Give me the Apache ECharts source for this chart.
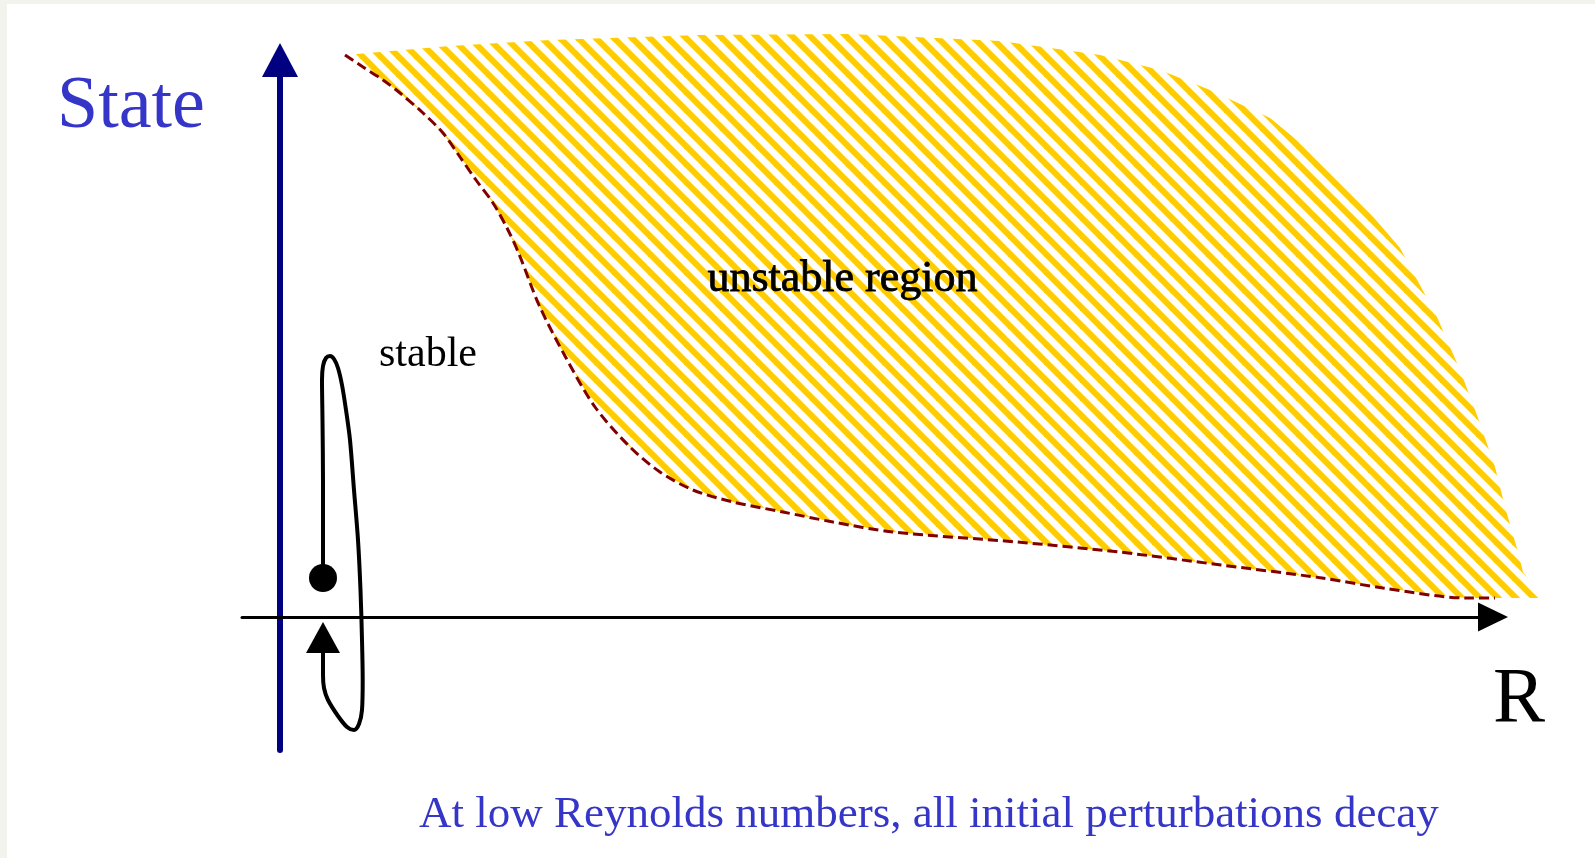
<!DOCTYPE html>
<html><head><meta charset="utf-8">
<script src="https://cdn.jsdelivr.net/npm/echarts@6/dist/echarts.min.js"></script>
<style>html,body{margin:0;padding:0;background:#fff;overflow:hidden}#c{width:1595px;height:858px}</style>
</head><body><div id="c"></div>
<script>
// ---- data (R along x, State along y; origin at axes crossing) ----
const regionTop = [
  [65,562],[170,571],[270,577],[420,582],[570,583],[720,576],[820,562],[880,547],
  [930,527],[990,499],[1053,447],[1120,369],[1157,300],[1180,247],[1198,199],
  [1215,150],[1225,110],[1238,65],[1243,45],[1262,19]
];
const regionBottom = [
  [65,562],[83,550],[103,537],[120,524],[143,504],[163,484],[180,460],[196,437],
  [213,414],[227,389],[239,363],[259,312],[285,261],[315,210],[350,170],[380,145],
  [413,127],[453,115],[503,105],[553,95],[613,85],[737,75],[839,65],[941,52],
  [1042,39],[1103,29],[1187,19],[1262,19]
];
const boundaryEnd = [[1269,18]];
const loopPath = [
  [43,39],[43,77],[43,137],[42.5,197],[42,237],[43,251],[46,259],[50,261],[54,258],
  [58,249],[62,232],[66,207],[70,177],[74,127],[78,77],[80.5,27],[82,-23],[82.7,-63],
  [82,-93],[79,-107],[74,-113],[67,-110],[58,-99],[48,-83],[44,-71],[43,-58],[43,-36]
];
const startPoint = [[43,39]];
const arrowHead = [[43,-20.5]];
const axisTitles = ['State', 'R'];
const regionLabels = ['stable', 'unstable region'];
const caption = 'At low Reynolds numbers, all initial perturbations decay';

// ---- hatch pattern ----
function hatch(p, w, color) {
  const cv = document.createElement('canvas');
  cv.width = p; cv.height = p;
  const ctx = cv.getContext('2d');
  ctx.strokeStyle = color; ctx.lineWidth = w; ctx.lineCap = 'square';
  for (let k = -1; k <= 1; k++) {
    ctx.beginPath(); ctx.moveTo(k * p, 0); ctx.lineTo(k * p + p, p); ctx.stroke();
  }
  return { image: cv, repeat: 'repeat' };
}
const pattern = hatch(18, 6, '#ffcc00');

const chart = echarts.init(document.getElementById('c'), null, { renderer: 'canvas' });
const serif = '"Liberation Serif", "Times New Roman", serif';
const blue = '#3535c8';

const option = {
  backgroundColor: '#ffffff',
  animation: false,
  grid: { left: 242, right: 102, top: 60, bottom: 108 },
  xAxis: {
    type: 'value', min: -38, max: 1213,
    axisLine: { show: true, onZero: true, symbol: ['none', 'triangle'], symbolSize: [29, 30],
      lineStyle: { color: '#000000', width: 3 } },
    axisTick: { show: false }, axisLabel: { show: false }, splitLine: { show: false }
  },
  yAxis: {
    type: 'value', min: -133, max: 557,
    axisLine: { show: true, onZero: true, symbol: ['none', 'triangle'], symbolSize: [36, 34],
      lineStyle: { color: '#000080', width: 6 } },
    axisTick: { show: false }, axisLabel: { show: false }, splitLine: { show: false }
  },
  graphic: [
    { type: 'rect', shape: { x: 0, y: 0, width: 1595, height: 4 }, style: { fill: '#f3f3ee' }, z: 100 },
    { type: 'rect', shape: { x: 0, y: 0, width: 7, height: 858 }, style: { fill: '#f3f3ee' }, z: 100 },
    { type: 'text', left: 57, top: 71, z: 100, style: { text: axisTitles[0], font: '74px ' + serif, fill: blue } },
    { type: 'text', left: 1493, top: 662, z: 100, style: { text: axisTitles[1], font: '78px ' + serif, fill: '#000' } },
    { type: 'text', left: 379, top: 334, z: 100, style: { text: regionLabels[0], font: '42px ' + serif, fill: '#000' } },
    { type: 'text', left: 707, top: 257, z: 100, style: { text: regionLabels[1], font: '44px ' + serif, fill: '#000', stroke: '#000', lineWidth: 0.8 } },
    { type: 'text', left: 419, top: 793, z: 100, style: { text: caption, font: '45px ' + serif, fill: blue } }
  ],
  series: [
    {
      type: 'custom', z: 1, clip: false, silent: true,
      data: [[0, 0]],
      renderItem: function (params, api) {
        const pts = regionTop.map(p => api.coord(p))
          .concat(regionBottom.slice().reverse().map(p => api.coord(p)));
        return { type: 'polygon', shape: { points: pts }, style: { fill: pattern, stroke: null } };
      }
    },
    {
      type: 'line', z: 3, clip: false, silent: true, symbol: 'none', smooth: 0.3,
      data: regionBottom.concat(boundaryEnd),
      lineStyle: { color: '#800000', width: 3, type: [10, 5] }
    },
    {
      type: 'line', z: 4, clip: false, silent: true, symbol: 'none', smooth: 0.3,
      data: loopPath,
      lineStyle: { color: '#000000', width: 4 }
    },
    {
      type: 'scatter', z: 5, clip: false, silent: true, symbol: 'circle', symbolSize: 28,
      data: startPoint, itemStyle: { color: '#000000', opacity: 1 }
    },
    {
      type: 'scatter', z: 5, clip: false, silent: true, symbol: 'triangle', symbolSize: [34, 31],
      data: arrowHead, itemStyle: { color: '#000000', opacity: 1 }
    }
  ]
};
chart.setOption(option);
</script></body></html>
